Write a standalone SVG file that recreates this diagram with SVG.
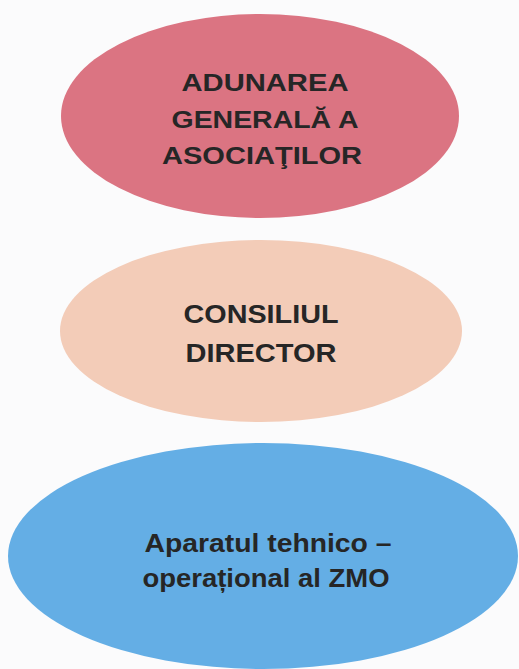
<svg xmlns="http://www.w3.org/2000/svg" width="519" height="669" viewBox="0 0 519 669">
<style>
.lbl{font-family:"Liberation Sans",Arial,sans-serif;font-weight:bold;fill:#262626;text-anchor:middle}
</style>
<rect x="0" y="0" width="519" height="669" fill="#fbfbfc"/>
<g id="connectors"></g>
<g id="node-adunarea">
<ellipse cx="260" cy="116" rx="199" ry="102" fill="#db7482"/>
<text class="lbl" x="265" y="91" font-size="24" textLength="167" lengthAdjust="spacingAndGlyphs">ADUNAREA</text>
<text class="lbl" x="265" y="128" font-size="24" textLength="187" lengthAdjust="spacingAndGlyphs">GENERALĂ A</text>
<text class="lbl" x="262" y="164" font-size="24" textLength="200" lengthAdjust="spacingAndGlyphs">ASOCIAŢILOR</text>
</g>
<g id="node-consiliul">
<ellipse cx="261" cy="331" rx="201" ry="91" fill="#f3ccb8"/>
<text class="lbl" x="261" y="323" font-size="25" textLength="155" lengthAdjust="spacingAndGlyphs">CONSILIUL</text>
<text class="lbl" x="261" y="362" font-size="25" textLength="151" lengthAdjust="spacingAndGlyphs">DIRECTOR</text>
</g>
<g id="node-aparatul">
<ellipse cx="263" cy="556" rx="255" ry="113" fill="#64aee5"/>
<text class="lbl" x="268" y="552" font-size="25" textLength="247" lengthAdjust="spacingAndGlyphs">Aparatul tehnico –</text>
<text class="lbl" x="266" y="587" font-size="25" textLength="247" lengthAdjust="spacingAndGlyphs">operațional al ZMO</text>
</g>
</svg>
